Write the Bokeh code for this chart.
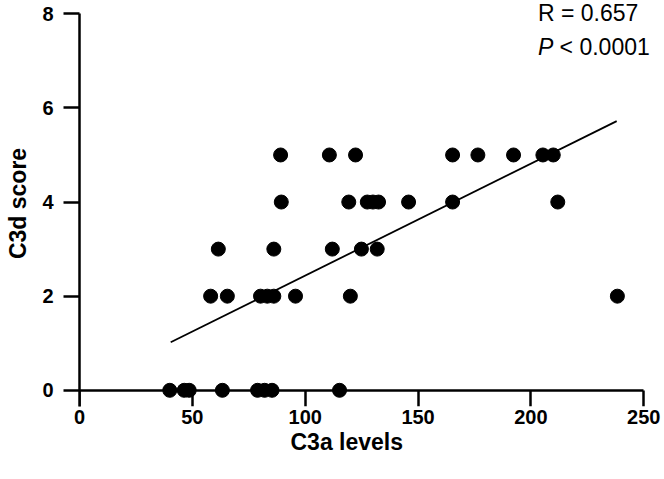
from bokeh.plotting import figure
from bokeh.models import FixedTicker, Label, Range1d, LinearAxis, Title
from bokeh.embed import file_html
from bokeh.resources import INLINE

# data
c3a_levels = [40.0, 46.4, 48.6, 63.3, 78.9, 82.0, 85.3, 115.2,
              58.1, 65.5, 80.2, 83.2, 86.1, 95.7, 120.0, 238.3,
              61.5, 86.1, 112.0, 124.9, 131.9,
              89.4, 119.3, 127.5, 130.0, 132.5, 145.8, 165.3, 211.9,
              89.1, 110.7, 122.3, 165.3, 176.5, 192.3, 205.3, 209.9]
c3d_score = [0, 0, 0, 0, 0, 0, 0, 0,
             2, 2, 2, 2, 2, 2, 2, 2,
             3, 3, 3, 3, 3,
             4, 4, 4, 4, 4, 4, 4, 4,
             5, 5, 5, 5, 5, 5, 5, 5]
fit_x = [40.4, 238.0]
fit_y = [1.02, 5.72]
x_ticks = [0, 50, 100, 150, 200, 250]
y_ticks = [0, 2, 4, 6, 8]
x_title = "C3a levels"
y_title = "C3d score"
r_text = "R = 0.657"
p_text = "< 0.0001"

FONT = "Liberation Sans"
Y0 = -0.344

p = figure(width=664, height=472, output_backend="svg", toolbar_location=None,
           x_range=Range1d(0, 259.18), y_range=Range1d(Y0, 8.282),
           min_border_left=79, min_border_right=0, min_border_top=0,
           min_border_bottom=66)
p.outline_line_color = None
p.grid.visible = False
p.background_fill_color = "white"
p.border_fill_color = "white"

# x axis: labels only (at the frame bottom)
xa = p.xaxis[0]
xa.ticker = FixedTicker(ticks=x_ticks)
xa.bounds = (0, 250)
xa.axis_line_color = None
xa.major_tick_line_color = None
xa.minor_tick_line_color = None
xa.major_tick_out = 0
xa.major_tick_in = 0
xa.major_label_standoff = 3
xa.major_label_text_font = FONT
xa.major_label_text_font_style = "bold"
xa.major_label_text_font_size = "20px"
xa.major_label_text_color = "black"

# x axis line and ticks drawn at y = 0
xl = LinearAxis(ticker=FixedTicker(ticks=x_ticks), fixed_location=0,
                bounds=(0, 250))
xl.axis_line_width = 2.5
xl.axis_line_color = "black"
xl.major_tick_line_width = 2.5
xl.major_tick_line_color = "black"
xl.major_tick_in = 16
xl.major_tick_out = 0
xl.minor_tick_line_color = None
xl.major_label_text_font_size = "0px"
xl.major_label_text_color = None
xl.major_label_standoff = 0
p.add_layout(xl, "above")

ya = p.yaxis[0]
ya.ticker = FixedTicker(ticks=y_ticks)
ya.bounds = (Y0, 8)
ya.axis_line_width = 2.5
ya.axis_line_color = "black"
ya.major_tick_line_width = 2.5
ya.major_tick_line_color = "black"
ya.major_tick_out = 16
ya.major_tick_in = 0
ya.minor_tick_line_color = None
ya.major_label_standoff = 10
ya.major_label_text_font = FONT
ya.major_label_text_font_style = "bold"
ya.major_label_text_font_size = "20px"
ya.major_label_text_color = "black"
ya.axis_label = y_title
ya.axis_label_text_font = FONT
ya.axis_label_text_font_style = "bold"
ya.axis_label_text_font_size = "23px"
ya.axis_label_text_color = "black"
ya.axis_label_standoff = 8

p.add_layout(Title(text=x_title, align="left", offset=211, standoff=0,
                   text_font=FONT, text_font_style="bold",
                   text_font_size="23px", text_color="black"), "below")

p.line(fit_x, fit_y, line_color="black", line_width=1.8)
p.scatter(c3a_levels, c3d_score, size=14, marker="circle",
          fill_color="black", line_color="black")

p.add_layout(Label(x=203.1, y=8.026, text=r_text, text_font=FONT,
                   text_font_size="23px", text_align="left",
                   text_baseline="alphabetic", text_color="black"))
p.add_layout(Label(x=203.1, y=7.304, text="P", text_font=FONT,
                   text_font_style="italic", text_font_size="23px",
                   text_align="left", text_baseline="alphabetic",
                   text_color="black"))
p.add_layout(Label(x=203.1, y=7.304, x_offset=21.7, text=p_text, text_font=FONT,
                   text_font_size="23px", text_align="left",
                   text_baseline="alphabetic", text_color="black"))

open("out.html", "w").write(file_html(p, INLINE))
